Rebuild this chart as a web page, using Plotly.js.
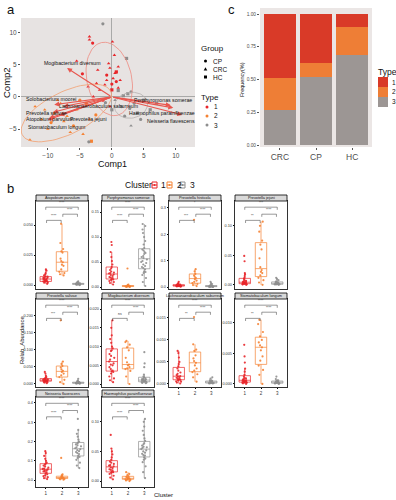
<!DOCTYPE html>
<html><head><meta charset="utf-8">
<script src="https://cdn.plot.ly/plotly-3.0.1.min.js"></script>
<style>html,body{margin:0;padding:0;background:#fff}#chart{width:396px;height:500px}</style>
</head><body><div id="chart"></div>
<script>
const W = 396, H = 500;
const X = p => p / W, Y = p => 1 - p / H;
const FONT = 'Liberation Sans, Arial, sans-serif';

/* ---------- panel a : PCA biplot ---------- */
const type1X = [-3.5,-3.5,-3.0,0.1,-5.5,-4.6,-0.3,1.0,0.2,0.7,-1.1,-1.9,0.0,1.0,-2.4,-0.8,0.5,-3.7,-0.8,0.0,1.3,-0.5,0.7,-2.9,-1.4,-0.3,-2.2,0.4];
const type1Y = [9.4,8.9,8.4,8.6,5.6,3.6,4.5,4.7,2.9,2.4,1.9,1.1,1.1,1.4,2.1,3.4,3.7,1.6,2.6,2.0,2.6,5.2,3.9,0.05,-0.5,-1.5,4.2,6.5];
const type1G = ['CRC','CRC','CP','CRC','CRC','CP','CRC','CRC','CRC','CP','CRC','CRC','HC','CRC','CRC','CP','CRC','CRC','CRC','CP','CRC','CRC','HC','CRC','CP','CRC','CRC','CRC'];
const type2X = [-12,-10.5,-9,-8,-7,-6,-5.5,-4,-3.5,-11,-9.5,-12.8,-6.5,-8.5,-5,-4.5,-10,-3.2,-7.5,-2.5];
const type2Y = [-1.5,-2,-2.5,-1,-3,-4.5,-2,-1,-3.5,-3.5,-4,-6.7,-5.5,-0.5,-0.5,-5.8,-5,-6.9,-3.8,-2.8];
const type2G = ['CRC','CRC','CP','CRC','CRC','CP','CRC','HC','CRC','CRC','CP','CRC','CRC','CRC','CP','CRC','CRC','HC','CRC','CP'];
const type3X = [2.5,3.5,4,1.5,6,3,5,2,0.5,-1.4,2.3,-3.6,1,4.5,0,3,7,2.8,1.8,-1.0];
const type3Y = [0.5,-1,-2.5,-1.5,-2,0.8,-0.5,-3,-0.5,11.4,6.0,-7.0,1,-3.5,-2,-4.5,-1,-1.8,0.2,-0.9];
const type3G = ['HC','CP','HC','CP','HC','CP','HC','CP','CRC','CP','HC','CP','HC','CP','HC','CRC','HC','CP','HC','CP'];

const taxa = ['Mogibacterium diversum','Solobacterium moorei','Lachnoanaerobaculum saburreum','Prevotella salivae','Atopobium parvulum','Prevotella jejuni','Stomatobaculum longum','Porphyromonas somerae','Haemophilus parainfluenzae','Neisseria flavescens'];
const loadX = [-7.0,-9.0,-7.6,-9.2,-9.8,-8.2,-10.0,9.2,9.6,11.0];
const loadY = [4.5,-1.2,-1.5,-2.4,-3.3,-2.9,-3.6,-1.3,-1.7,-2.8];
const labelX = [-10.9,-13.8,-8.6,-13.8,-13.8,-6.8,-13.4,3.1,2.4,5.2];
const labelY = [5.3,-0.25,-1.35,-2.5,-3.45,-3.45,-4.7,-0.5,-2.5,-3.75];

const ellCX = [-0.4,-7.1,3.0], ellCY = [2.8,-2.5,-1.3];
const ellA = [5.8,7.7,2.6], ellB = [3.5,3.3,2.0], ellAng = [102,26,10];
const ellColor = ['#EE8A80','#F2A070','#B5B0AE'];

/* ---------- panel c : stacked frequencies ---------- */
const groupsC = ['CRC','CP','HC'];
const freqType1 = [0.49,0.37,0.10];
const freqType2 = [0.24,0.11,0.21];
const freqType3 = [0.27,0.52,0.69];
const typeColors = ['#D93A28','#EE7E36','#9C9694'];

/* ---------- panel b : relative abundance per cluster ---------- */
const atopobium = [
 [0.001,0.002,0.002,0.003,0.003,0.004,0.004,0.005,0.005,0.005,0.006,0.006,0.007,0.007,0.008,0.009,0.010,0.012,0.013,0.003,0.004,0.006],
 [0.051,0.035,0.030,0.028,0.027,0.022,0.019,0.017,0.016,0.013,0.011,0.010,0.008,0.009,0.020],
 [0,0.0005,0.0008,0.001,0.001,0.0012,0.0015,0.0005,0.0003,0.002,0.0025,0.001,0.0007,0.0009,0.0011,0.0004,0.0018,0.003,0.0006,0.0013]];
const porphyromonas = [
 [0.005,0.008,0.010,0.012,0.014,0.016,0.018,0.020,0.022,0.024,0.025,0.027,0.029,0.031,0.034,0.037,0.040,0.045,0.052,0.060,0.070,0.084,0.090,0.015,0.019,0.028],
 [0.000,0.001,0.002,0.001,0.003,0.000,0.002,0.004,0.001,0.037,0.002,0.005,0.001,0.003],
 [0.002,0.010,0.018,0.024,0.028,0.031,0.035,0.040,0.045,0.048,0.052,0.055,0.058,0.062,0.066,0.070,0.073,0.078,0.085,0.092,0.100,0.108,0.115,0.122,0.126,0.038,0.050,0.060,0.042,0.068,0.030,0.075]];
const histicola = [
 [0.002,0.003,0.004,0.005,0.006,0.007,0.008,0.010,0.012,0.005,0.004,0.006,0.003,0.009,0.015,0.020,0.004,0.007,0.011,0.006],
 [0.004,0.008,0.012,0.015,0.020,0.025,0.030,0.035,0.040,0.045,0.050,0.060,0.068,0.255],
 [0.001,0.002,0.003,0.002,0.004,0.005,0.001,0.003,0.006,0.008,0.012,0.020,0.002,0.004,0.003,0.005,0.015,0.002]];
const jejuni = [
 [0.000,0.001,0.001,0.002,0.002,0.003,0.003,0.004,0.004,0.005,0.005,0.006,0.007,0.008,0.010,0.012,0.015,0.018,0.020,0.040,0.049,0.002,0.003,0.001],
 [0.000,0.004,0.008,0.012,0.016,0.020,0.022,0.025,0.030,0.045,0.060,0.068,0.075,0.090,0.100,0.107],
 [0.000,0.001,0.002,0.001,0.003,0.002,0.004,0.005,0.001,0.002,0.008,0.012,0.010,0.003,0.002,0.001,0.006,0.004]];
const salivae = [
 [0.002,0.004,0.005,0.006,0.007,0.008,0.009,0.010,0.010,0.011,0.012,0.013,0.014,0.015,0.016,0.018,0.020,0.024,0.030,0.035,0.008,0.011,0.013,0.009],
 [0.000,0.005,0.012,0.020,0.025,0.030,0.035,0.038,0.042,0.048,0.052,0.058,0.065,0.185],
 [0.001,0.002,0.003,0.002,0.004,0.003,0.005,0.006,0.002,0.001,0.004,0.008,0.010,0.003,0.002,0.015,0.005,0.003,0.002,0.004]];
const mogibacterium = [
 [0.0005,0.001,0.0015,0.002,0.0028,0.0032,0.0036,0.004,0.0045,0.005,0.0055,0.006,0.0065,0.007,0.0075,0.008,0.009,0.0095,0.010,0.011,0.012,0.013,0.015,0.017,0.0034,0.0052,0.0088],
 [0.000,0.002,0.0035,0.004,0.0042,0.0045,0.005,0.0052,0.0058,0.007,0.009,0.0098,0.0105,0.0112,0.0115],
 [0.0002,0.0004,0.0005,0.0006,0.0008,0.001,0.001,0.0012,0.0014,0.0015,0.0018,0.0007,0.0009,0.0011,0.0003,0.002,0.0025,0.0045,0.0055,0.0085,0.0013,0.0006]];
const lachno = [
 [0.0001,0.0003,0.0005,0.0006,0.0008,0.001,0.0012,0.0014,0.0015,0.0017,0.002,0.0023,0.0026,0.003,0.0035,0.004,0.0045,0.005,0.006,0.007,0.0075,0.0009,0.0011,0.0018],
 [0.0005,0.0015,0.0022,0.0027,0.003,0.0035,0.0042,0.0048,0.0052,0.0058,0.0065,0.0075,0.0078,0.009,0.0152],
 [0.0001,0.0002,0.0003,0.0002,0.0004,0.0005,0.0003,0.0006,0.0008,0.0012,0.0002,0.0001,0.0004,0.0007,0.0015,0.0003]];
const stomatobaculum = [
 [0.0000,0.0001,0.0002,0.0002,0.0003,0.0003,0.0004,0.0005,0.0005,0.0006,0.0007,0.0008,0.0009,0.001,0.0012,0.0015,0.002,0.0025,0.0035,0.0045,0.0064,0.0004,0.0006,0.0003],
 [0.0000,0.0015,0.0023,0.003,0.0038,0.0045,0.0055,0.006,0.0063,0.0068,0.0072,0.0078,0.0085,0.0098,0.0105],
 [0.0000,0.0001,0.0002,0.0003,0.0001,0.0004,0.0002,0.0005,0.0003,0.0006,0.0008,0.0012,0.0002,0.0001,0.0004]];
const neisseria = [
 [0.005,0.010,0.015,0.020,0.025,0.030,0.035,0.040,0.045,0.050,0.052,0.055,0.060,0.065,0.070,0.075,0.080,0.085,0.090,0.100,0.110,0.125,0.140,0.150,0.045,0.058],
 [0.002,0.004,0.006,0.008,0.010,0.012,0.014,0.016,0.020,0.025,0.030,0.115,0.009,0.011],
 [0.062,0.075,0.090,0.105,0.115,0.120,0.125,0.135,0.145,0.150,0.155,0.160,0.165,0.170,0.180,0.185,0.190,0.195,0.200,0.210,0.225,0.240,0.260,0.317,0.140,0.175]];
const haemophilus = [
 [0.003,0.006,0.009,0.012,0.014,0.016,0.018,0.020,0.022,0.023,0.025,0.027,0.029,0.031,0.033,0.036,0.040,0.045,0.050,0.055,0.078,0.015,0.019,0.026],
 [0.000,0.001,0.002,0.003,0.004,0.005,0.006,0.007,0.008,0.010,0.012,0.015,0.004,0.003],
 [0.005,0.015,0.025,0.032,0.036,0.038,0.040,0.043,0.046,0.048,0.050,0.052,0.054,0.056,0.058,0.060,0.062,0.064,0.068,0.072,0.078,0.085,0.092,0.100,0.105,0.044,0.057]];

const panelNames = ['Atopobium parvulum','Porphyromonas somerae','Prevotella histicola','Prevotella jejuni','Prevotella salivae','Mogibacterium diversum','Lachnoanaerobaculum saburreum','Stomatobaculum longum','Neisseria flavescens','Haemophilus parainfluenzae'];
const panelData = [atopobium,porphyromonas,histicola,jejuni,salivae,mogibacterium,lachno,stomatobaculum,neisseria,haemophilus];
const clusters = ['1','2','3'];
const clusterColors = ['#E8262A','#F58233','#8E8E8E'];
const sigLabels = [
 ['****','****','****'],['****','****','****'],['*','***','****'],['***','**','****'],
 ['****','***','****'],['****','ns','****'],['****','**','****'],['****','**','****'],
 ['****','****','****'],['****','****','****']];

/* layout geometry (pixels) */
const colPx = [[36,88],[102,154],[169,221],[235,287]];
const rowPx = [[201,289],[299,387],[397,487]];
const stripPx = [[195,201],[293,299],[390,397]];
const yRanges = [[-0.0033,0.07],[-0.004,0.172],[-0.007,0.326],[-0.007,0.142],[-0.009,0.247],[-0.0008,0.0227],[-0.0007,0.0193],[-0.0005,0.0139],[-0.036,0.431],[-0.01,0.142]];
const yDtick = [0.025,0.05,0.1,0.05,0.05,0.005,0.005,0.005,0.1,0.05];
const yFmt = ['.3f','.2f','.1f','.2f','.3f','.3f','.3f','.3f','.1f','.2f'];
const showXLabels = [false,false,false,false,false,false,true,true,true,true];

const traces = [];
const shapes = [];
const annotations = [];

/* panel a traces */
const symbolOf = {CP:'circle', CRC:'triangle-up', HC:'square'};
[[type1X,type1Y,type1G],[type2X,type2Y,type2G],[type3X,type3Y,type3G]].forEach((d,k) => {
  traces.push({type:'scatter', mode:'markers', x:d[0], y:d[1], xaxis:'x', yaxis:'y',
    marker:{color:clusterColors[k], size:3.2, symbol:d[2].map(g => symbolOf[g])}, hoverinfo:'skip'});
});
for (let k = 0; k < 3; k++) {
  const ex = [], ey = [];
  const th = ellAng[k] * Math.PI / 180;
  for (let s = 0; s <= 72; s++) {
    const t = s / 72 * 2 * Math.PI;
    ex.push(ellCX[k] + ellA[k]*Math.cos(t)*Math.cos(th) - ellB[k]*Math.sin(t)*Math.sin(th));
    ey.push(ellCY[k] + ellA[k]*Math.cos(t)*Math.sin(th) + ellB[k]*Math.sin(t)*Math.cos(th));
  }
  traces.push({type:'scatter', mode:'lines', x:ex, y:ey, xaxis:'x', yaxis:'y',
    line:{color:ellColor[k], width:0.8}, hoverinfo:'skip'});
}
taxa.forEach((t,i) => {
  annotations.push({xref:'x', yref:'y', axref:'x', ayref:'y', x:loadX[i], y:loadY[i], ax:0, ay:0,
    text:'', showarrow:true, arrowhead:2, arrowsize:0.9, arrowwidth:1.1, arrowcolor:'#E8564E', standoff:0});
});
taxa.forEach((t,i) => {
  annotations.push({xref:'x', yref:'y', x:labelX[i], y:labelY[i], xanchor:'left', yanchor:'middle',
    text:t, showarrow:false, font:{family:FONT, size:5.2, color:'#111'}});
});

/* panel c traces */
[[freqType3,2],[freqType2,1],[freqType1,0]].forEach(([vals,k]) => {
  traces.push({type:'bar', x:groupsC, y:vals, xaxis:'x2', yaxis:'y2',
    marker:{color:typeColors[k], line:{width:0}}, hoverinfo:'skip'});
});

/* panel b traces, axes */
const layout = {
  width:W, height:H, margin:{l:0,r:0,t:0,b:0}, showlegend:false,
  paper_bgcolor:'#fff', plot_bgcolor:'#fff', barmode:'stack', bargap:0.11,
  font:{family:FONT, color:'#222'},
  xaxis:{domain:[X(21),X(195)], range:[-14.2,13], tickvals:[-10,-5,0,5,10], ticks:'outside', ticklen:2,
    tickcolor:'#555', tickfont:{size:6.5, color:'#4D4D4D'}, showgrid:false, zeroline:true,
    zerolinecolor:'#9A9A9A', zerolinewidth:0.8, showline:false, anchor:'y'},
  yaxis:{domain:[Y(147),Y(18)], range:[-7.8,12.3], tickvals:[-5,0,5,10], ticks:'outside', ticklen:2,
    tickcolor:'#555', tickfont:{size:6.5, color:'#4D4D4D'}, showgrid:false, zeroline:true,
    zerolinecolor:'#9A9A9A', zerolinewidth:0.8, showline:false, anchor:'x'},
  xaxis2:{domain:[X(260),X(372)], anchor:'y2', type:'category', range:[-0.55,2.55], ticks:'outside',
    ticklen:2, tickcolor:'#555', tickfont:{size:8.5, color:'#4D4D4D'}, showgrid:false, showline:false},
  yaxis2:{domain:[Y(147),Y(8)], anchor:'x2', range:[-0.015,1.046], tickvals:[0,0.25,0.5,0.75,1],
    tickformat:'.2f', ticks:'outside', ticklen:2, tickcolor:'#555', tickfont:{size:4.8, color:'#4D4D4D'},
    showgrid:false, zeroline:false, showline:false}
};

/* grey backgrounds for a and c */
shapes.push({type:'rect', xref:'x domain', yref:'y domain', x0:0, x1:1, y0:0, y1:1, fillcolor:'#E7E3E2', line:{width:0}, layer:'below'});
shapes.push({type:'rect', xref:'x2 domain', yref:'y2 domain', x0:0, x1:1, y0:0, y1:1, fillcolor:'#EBE6E5', line:{width:0}, layer:'below'});

panelData.forEach((groups,i) => {
  const n = i + 3;
  const row = Math.floor(i / 4), col = i % 4;
  const xa = 'xaxis' + n, ya = 'yaxis' + n;
  layout[xa] = {domain:[X(colPx[col][0]), X(colPx[col][1])], anchor:'y'+n, type:'category',
    categoryorder:'array', categoryarray:clusters, range:[-0.6,2.6],
    showline:true, mirror:true, linecolor:'#000', linewidth:0.8, showgrid:false, zeroline:false,
    ticks:showXLabels[i] ? 'outside' : '', ticklen:1.5, tickcolor:'#000',
    showticklabels:showXLabels[i], tickfont:{size:4.5, color:'#333'}};
  layout[ya] = {domain:[Y(rowPx[row][1]), Y(rowPx[row][0])], anchor:'x'+n, range:yRanges[i],
    tick0:0, dtick:yDtick[i], tickformat:yFmt[i], showline:true, mirror:true, linecolor:'#000',
    linewidth:0.8, showgrid:false, zeroline:false, ticks:'outside', ticklen:1.5, tickcolor:'#000',
    tickfont:{size:3.8, color:'#333'}};
  groups.forEach((vals,k) => {
    traces.push({type:'box', y:vals, name:clusters[k], xaxis:'x'+n, yaxis:'y'+n,
      boxpoints:'all', jitter:0.55, pointpos:0, width:0.7, whiskerwidth:0,
      fillcolor:'rgba(255,255,255,0)', line:{color:clusterColors[k], width:0.7},
      marker:{color:clusterColors[k], size:2.2, opacity:0.9}, hoverinfo:'skip'});
  });
  /* strip */
  shapes.push({type:'rect', xref:'paper', yref:'paper', x0:X(colPx[col][0]), x1:X(colPx[col][1]),
    y0:Y(stripPx[row][1]), y1:Y(stripPx[row][0]), fillcolor:'#D9D9D9', line:{color:'#000', width:0.8}});
  annotations.push({xref:'paper', yref:'paper', x:X((colPx[col][0]+colPx[col][1])/2),
    y:Y((stripPx[row][0]+stripPx[row][1])/2), text:panelNames[i], showarrow:false,
    xanchor:'center', yanchor:'middle', font:{size:3.8, color:'#111'}});
  /* significance brackets */
  const br = [[0,2,0.93],[0.05,0.95,0.78],[1.05,1.95,0.85]];
  br.forEach((b,j) => {
    const xr = 'x'+n, yr = 'y'+n+' domain';
    const lc = {color:'#333', width:0.5};
    shapes.push({type:'line', xref:xr, yref:yr, x0:b[0], x1:b[1], y0:b[2], y1:b[2], line:lc});
    shapes.push({type:'line', xref:xr, yref:yr, x0:b[0], x1:b[0], y0:b[2], y1:b[2]-0.03, line:lc});
    shapes.push({type:'line', xref:xr, yref:yr, x0:b[1], x1:b[1], y0:b[2], y1:b[2]-0.03, line:lc});
    annotations.push({xref:xr, yref:yr, x:(b[0]+b[1])/2, y:b[2]+0.003, text:sigLabels[i][j],
      showarrow:false, xanchor:'center', yanchor:'bottom', font:{size:3.4, color:'#333'}});
  });
});

/* texts: titles, panel letters */
const txt = (x,y,t,size,opts={}) => annotations.push(Object.assign({xref:'paper', yref:'paper',
  x:X(x), y:Y(y), text:t, showarrow:false, xanchor:'left', yanchor:'middle',
  font:{family:FONT, size:size, color:'#111'}}, opts));
txt(5,9,'a',13);
txt(226,9,'c',13);
txt(5,188,'b',13);
txt(112,164,'Comp1',9);
annotations[annotations.length-1].xanchor = 'center';
txt(6,83,'Comp2',9.5,{xanchor:'center', textangle:-90});
txt(242,80,'Frequency(%)',5.5,{xanchor:'center', textangle:-90});
txt(22,340,'Relab_Abundance',5.8,{xanchor:'center', textangle:-90});
txt(163,495,'Cluster',6,{xanchor:'center'});

/* legends drawn as keys */
txt(199,49,'Group',8);
const grpNames = ['CP','CRC','HC'];
const grpY = [61,69,77];
grpNames.forEach((g,k) => {
  const cx = 205.5, cy = grpY[k], r = 1.5;
  if (g === 'CP') shapes.push({type:'circle', xref:'paper', yref:'paper', x0:X(cx-r), x1:X(cx+r), y0:Y(cy+r), y1:Y(cy-r), fillcolor:'#000', line:{width:0}});
  if (g === 'CRC') shapes.push({type:'path', xref:'paper', yref:'paper', path:`M ${X(cx-1.8)} ${Y(cy+1.5)} L ${X(cx+1.8)} ${Y(cy+1.5)} L ${X(cx)} ${Y(cy-1.7)} Z`, fillcolor:'#000', line:{width:0}});
  if (g === 'HC') shapes.push({type:'rect', xref:'paper', yref:'paper', x0:X(cx-1.5), x1:X(cx+1.5), y0:Y(cy+1.5), y1:Y(cy-1.5), fillcolor:'#000', line:{width:0}});
  txt(211,cy,g,6.5);
});
txt(199,98,'Type',8);
[107,116,125].forEach((cy,k) => {
  shapes.push({type:'circle', xref:'paper', yref:'paper', x0:X(205.5), x1:X(208.5), y0:Y(cy+1.5), y1:Y(cy-1.5), fillcolor:clusterColors[k], line:{width:0}});
  txt(212,cy,clusters[k],6.5);
});
txt(376,72,'Type',8.5);
[[77,87],[87,97],[97,107]].forEach((yy,k) => {
  shapes.push({type:'rect', xref:'paper', yref:'paper', x0:X(378), x1:X(388), y0:Y(yy[1]), y1:Y(yy[0]), fillcolor:typeColors[k], line:{width:0}});
  txt(390,(yy[0]+yy[1])/2,clusters[k],6.5);
});
txt(123,185,'Cluster',8.5);
[[152,159],[167,175],[180,188]].forEach((p,k) => {
  shapes.push({type:'rect', xref:'paper', yref:'paper', x0:X(p[0]), x1:X(p[0]+5), y0:Y(188), y1:Y(182), fillcolor:'#fff', line:{color:clusterColors[k], width:1}});
  shapes.push({type:'line', xref:'paper', yref:'paper', x0:X(p[0]), x1:X(p[0]+5), y0:Y(185), y1:Y(185), line:{color:clusterColors[k], width:1}});
  shapes.push({type:'circle', xref:'paper', yref:'paper', x0:X(p[0]+1.5), x1:X(p[0]+3.5), y0:Y(186), y1:Y(184), fillcolor:clusterColors[k], line:{width:0}});
  txt(p[1],185,clusters[k],8.5);
});

layout.shapes = shapes;
layout.annotations = annotations;
Plotly.newPlot('chart', traces, layout, {staticPlot:true, displayModeBar:false});
</script></body></html>
